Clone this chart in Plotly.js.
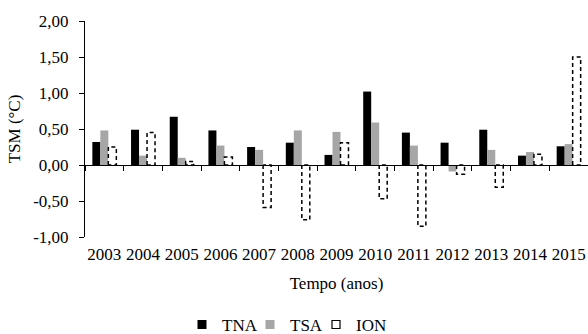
<!DOCTYPE html>
<html>
<head>
<meta charset="utf-8">
<script src="https://cdn.plot.ly/plotly-3.0.1.min.js"></script>
<style>
  html, body { margin: 0; padding: 0; background: #ffffff; }
  #chart { width: 588px; height: 334px; }
</style>
</head>
<body>
<div id="chart"></div>
<script>
// Anomalias de TSM por ano
const years = ['2003', '2004', '2005', '2006', '2007', '2008', '2009',
               '2010', '2011', '2012', '2013', '2014', '2015'];
const tna = [0.32, 0.49, 0.67, 0.48, 0.25, 0.31, 0.14, 1.02, 0.45, 0.31, 0.49, 0.13, 0.26];
const tsa = [0.48, 0.13, 0.10, 0.27, 0.21, 0.48, 0.46, 0.59, 0.27, -0.09, 0.21, 0.18, 0.29];
const ion = [0.25, 0.45, 0.05, 0.11, -0.59, -0.76, 0.31, -0.47, -0.85, -0.13, -0.31, 0.15, 1.50];

const yTickVals = [-1, -0.5, 0, 0.5, 1, 1.5, 2];
const yTickText = ['-1,00', '-0,50', '0,00', '0,50', '1,00', '1,50', '2,00'];

const FONT = '"Liberation Serif", serif';
const BARGAP = 0.38;
const slot = (1 - BARGAP) / 3;          // width of one bar in category units
const idx = years.map((_, i) => i);

// dashed outline for the ION bars (third slot of each group)
const ox = [], oy = [];
ion.forEach((v, i) => {
  const c = i + slot;
  const x0 = c - slot / 2, x1 = c + slot / 2;
  ox.push(x0, x0, x1, x1, x0, null);
  oy.push(0, v, v, 0, 0, null);
});

const noData = [null];

const traces = [
  { type: 'bar', name: 'TNA', x: idx, y: tna, offsetgroup: 'a', showlegend: false,
    marker: { color: '#000000', line: { width: 0 } }, hoverinfo: 'skip' },
  { type: 'bar', name: 'TSA', x: idx, y: tsa, offsetgroup: 'b', showlegend: false,
    marker: { color: '#a6a6a6', line: { width: 0 } }, hoverinfo: 'skip' },
  { type: 'bar', name: 'ION', x: idx, y: ion, offsetgroup: 'c', showlegend: false,
    marker: { color: '#ffffff', line: { width: 0 } }, hoverinfo: 'skip' },
  { type: 'scatter', mode: 'lines', x: ox, y: oy, showlegend: false,
    line: { color: '#000000', width: 1.5, dash: '4px,3px' }, hoverinfo: 'skip' },
  // legend keys, one small legend box each
  { type: 'scatter', mode: 'markers', name: 'TNA', x: noData, y: noData, legend: 'legend',
    marker: { symbol: 'square', size: 9, color: '#000000' } },
  { type: 'scatter', mode: 'markers', name: 'TSA', x: noData, y: noData, legend: 'legend2',
    marker: { symbol: 'square', size: 9, color: '#a6a6a6' } },
  { type: 'scatter', mode: 'markers', name: 'ION', x: noData, y: noData, legend: 'legend3',
    marker: { symbol: 'square-open', size: 8, color: '#000000', line: { width: 1.2 } } }
];

function legendAt(px) {
  return { orientation: 'h', x: px / 588, xanchor: 'left', xref: 'container',
           y: 0.081, yanchor: 'top', yref: 'container', bgcolor: 'rgba(0,0,0,0)',
           font: { family: FONT, size: 17 }, itemwidth: 30 };
}

const layout = {
  width: 588, height: 334,
  margin: { l: 85, r: 0, t: 21, b: 97, pad: 0, autoexpand: false },
  paper_bgcolor: '#ffffff', plot_bgcolor: '#ffffff',
  font: { family: FONT, size: 17, color: '#000000' },
  barmode: 'group', bargap: BARGAP, bargroupgap: 0,
  showlegend: true,
  legend: legendAt(182),
  legend2: legendAt(250),
  legend3: legendAt(316),
  xaxis: {
    range: [-0.5, 12.5], anchor: 'free', position: 1 / 3,
    tickmode: 'array', tickvals: idx, ticktext: years,
    ticks: '', showline: true, linecolor: '#000000', linewidth: 1,
    showgrid: false, zeroline: false, ticklabelstandoff: 74,
    minor: { tick0: 0.5, dtick: 1, ticks: 'outside', ticklen: 5, tickcolor: '#000000', showgrid: false },
    title: { text: 'Tempo (anos)', font: { family: FONT, size: 17 }, standoff: 13 },
    automargin: false, fixedrange: true
  },
  yaxis: {
    range: [-1, 2], tickmode: 'array', tickvals: yTickVals, ticktext: yTickText,
    ticks: 'outside', ticklen: 5, tickcolor: '#000000',
    showline: true, linecolor: '#000000', linewidth: 1,
    showgrid: false, zeroline: false, ticklabelstandoff: 7,
    title: { text: 'TSM (°C)', font: { family: FONT, size: 17 }, standoff: 8 },
    automargin: false, fixedrange: true
  }
};

Plotly.newPlot('chart', traces, layout, { staticPlot: true, displayModeBar: false });
</script>
</body>
</html>
